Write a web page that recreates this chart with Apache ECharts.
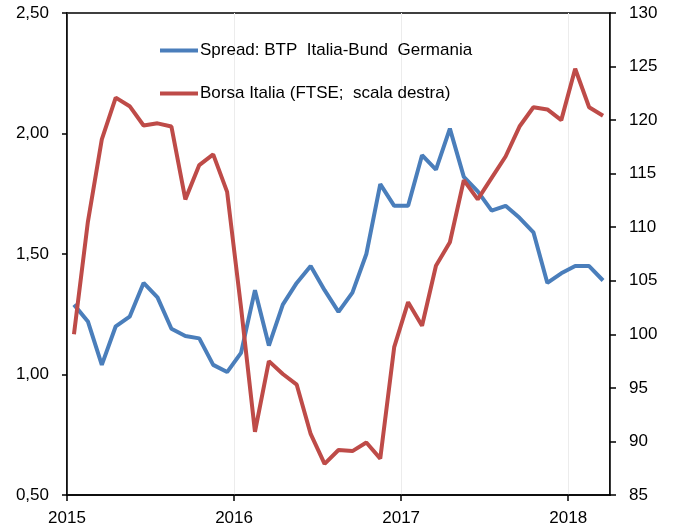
<!DOCTYPE html>
<html>
<head>
<meta charset="utf-8">
<script src="https://cdn.jsdelivr.net/npm/echarts@6/dist/echarts.min.js"></script>
<style>
  html, body { margin: 0; padding: 0; background: #fff; }
  #main { width: 675px; height: 527px; }
</style>
</head>
<body>
<div id="main"></div>
<script>
// mesi da gen 2015 a mar 2018 (valori a metà mese)
const years = ["2015", "2016", "2017", "2018"];
const spread = [
  1.29, 1.22, 1.04, 1.20, 1.24, 1.38, 1.32, 1.19, 1.16, 1.15, 1.04, 1.01,
  1.09, 1.35, 1.12, 1.29, 1.38, 1.45, 1.35, 1.26, 1.34, 1.50, 1.79, 1.70,
  1.70, 1.91, 1.85, 2.02, 1.82, 1.76, 1.68, 1.70, 1.65, 1.59, 1.38, 1.42,
  1.45, 1.45, 1.39
];
const ftse = [
  100.0, 110.5, 118.2, 122.1, 121.3, 119.5, 119.7, 119.4, 112.6, 115.8, 116.8, 113.3,
  102.5, 90.9, 97.5, 96.3, 95.3, 90.7, 87.9, 89.2, 89.1, 89.9, 88.4, 98.8,
  103.0, 100.8, 106.4, 108.6, 114.4, 112.6, 114.6, 116.6, 119.4, 121.2, 121.0, 120.0,
  124.8, 121.2, 120.4
];

const chartDom = document.getElementById("main");
const myChart = echarts.init(chartDom);

const toPairs = (arr) => arr.map((v, i) => [i + 0.5, v]);
const txt = { color: "#000", fontSize: 17, fontFamily: "Liberation Sans, Arial, sans-serif" };

const option = {
  animation: false,
  grid: {
    left: 67,
    right: 65,
    top: 13,
    bottom: 31,
    show: true,
    borderColor: "#000",
    borderWidth: 1.5,
  },
  legend: {
    orient: "vertical",
    left: 155,
    top: 37,
    itemGap: 26,
    itemWidth: 38,
    itemHeight: 4,
    icon: "rect",
    textStyle: { ...txt, padding: [0, 0, 0, -3] },
    data: ["Spread: BTP  Italia-Bund  Germania", "Borsa Italia (FTSE;  scala destra)"],
  },
  xAxis: {
    type: "value",
    min: 0,
    max: 39,
    interval: 12,
    axisLine: { lineStyle: { color: "#000", width: 1.5 } },
    axisTick: { show: true, inside: false, length: 6, lineStyle: { color: "#000", width: 1.5 } },
    axisLabel: {
      ...txt,
      margin: 15,
      showMaxLabel: false,
      formatter: (v) => (v % 12 === 0 ? years[v / 12] : ""),
    },
    splitLine: { show: true, lineStyle: { color: "#ececec", width: 1 } },
  },
  yAxis: [
    {
      type: "value",
      min: 0.5,
      max: 2.5,
      interval: 0.5,
      axisLine: { show: true, lineStyle: { color: "#000", width: 1.5 } },
      axisTick: { show: true, length: 5, lineStyle: { color: "#000", width: 1.5 } },
      axisLabel: { ...txt, margin: 18, formatter: (v) => v.toFixed(2).replace(".", ",") },
      splitLine: { show: false },
    },
    {
      type: "value",
      min: 85,
      max: 130,
      interval: 5,
      position: "right",
      axisLine: { show: true, lineStyle: { color: "#000", width: 1.5 } },
      axisTick: { show: true, length: 6, lineStyle: { color: "#000", width: 1.5 } },
      axisLabel: { ...txt, margin: 19 },
      splitLine: { show: false },
    },
  ],
  series: [
    {
      name: "Spread: BTP  Italia-Bund  Germania",
      type: "line",
      yAxisIndex: 0,
      symbol: "none",
      color: "#4a7ebb",
      lineStyle: { width: 4, color: "#4a7ebb" },
      data: toPairs(spread),
    },
    {
      name: "Borsa Italia (FTSE;  scala destra)",
      type: "line",
      yAxisIndex: 1,
      symbol: "none",
      color: "#be4b48",
      lineStyle: { width: 4, color: "#be4b48" },
      data: toPairs(ftse),
    },
  ],
};

option && myChart.setOption(option);
</script>
</body>
</html>
